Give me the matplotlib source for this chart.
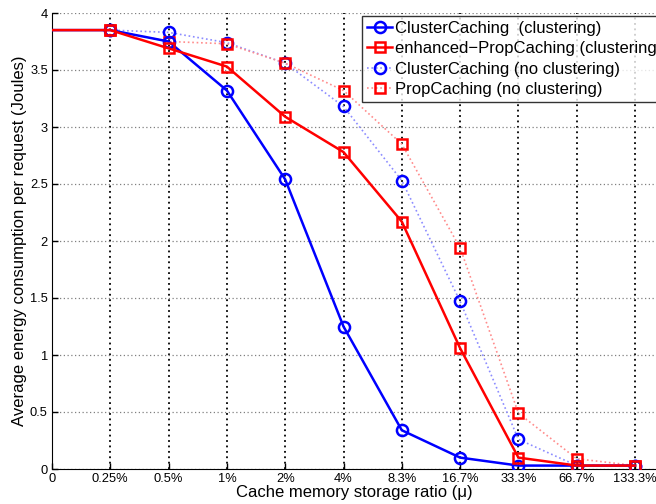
import matplotlib
matplotlib.use("Agg")
import matplotlib.pyplot as plt
from matplotlib.lines import Line2D
import numpy as np

plt.rcParams['font.family'] = ['Liberation Sans', 'DejaVu Sans']

# Cache memory storage ratios (categorical x axis)
ratio_labels = ['0', '0.25%', '0.5%', '1%', '2%', '4%', '8.3%', '16.7%', '33.3%', '66.7%', '133.3%']

# Average energy consumption per request (Joules)
cluster_clustering = [3.85, 3.85, 3.75, 3.32, 2.54, 1.25, 0.34, 0.10, 0.03, 0.03, 0.03]
enh_prop_clustering = [3.85, 3.85, 3.69, 3.53, 3.09, 2.78, 2.17, 1.06, 0.10, 0.03, 0.03]
cluster_noclust = [3.85, 3.85, 3.83, 3.74, 3.56, 3.18, 2.53, 1.47, 0.26, 0.03, 0.03]
prop_noclust = [3.85, 3.85, 3.75, 3.73, 3.56, 3.32, 2.85, 1.94, 0.49, 0.09, 0.03]

x = np.arange(len(ratio_labels))

fig = plt.figure(figsize=(6.56, 5.04), dpi=100)
ax = fig.add_axes([52/656, 35/504, 1 - 52/656, 456/504])

marks = list(range(1, len(x)))
light_blue = (0.55, 0.55, 1.0)
light_red = (1.0, 0.55, 0.55)

# Dotted curves (no clustering): faint line with full-colour markers
ax.plot(x, cluster_noclust, ls=':', color=light_blue, lw=1.2, zorder=3)
ax.plot(x[1:], cluster_noclust[1:], ls='none', marker='o', ms=8, mfc='none',
        mec='blue', mew=1.8, zorder=4)
ax.plot(x, prop_noclust, ls=':', color=light_red, lw=1.2, zorder=3)
ax.plot(x[1:], prop_noclust[1:], ls='none', marker='s', ms=7, mfc='none',
        mec='red', mew=1.8, zorder=4)

# Solid curves (clustering)
ax.plot(x, cluster_clustering, '-', color='blue', lw=1.8, marker='o', ms=8,
        mfc='none', mew=1.8, markevery=marks, zorder=5)
ax.plot(x, enh_prop_clustering, '-', color='red', lw=1.8, marker='s', ms=7,
        mfc='none', mew=1.8, markevery=marks, zorder=6)

ax.set_xlim(0, (656 - 52) / 58.3)
ax.set_ylim(0, 4)
ax.set_xticks(x)
ax.set_xticklabels(ratio_labels, fontsize=9.3)
ax.set_yticks(np.arange(0, 4.01, 0.5))
ax.set_yticklabels(['0', '0.5', '1', '1.5', '2', '2.5', '3', '3.5', '4'], fontsize=9.3)
ax.tick_params(direction='in', length=4, width=1, pad=3)

ax.spines['top'].set_visible(False)
ax.spines['right'].set_visible(False)

ax.xaxis.grid(True, color='black', linestyle=(0, (1, 2)), lw=1.3)
ax.yaxis.grid(True, color='gray', linestyle=(0, (1, 2)), lw=0.9)
ax.set_axisbelow(True)

ax.set_xlabel('Cache memory storage ratio (\u03bc)', fontsize=12, labelpad=0)
ax.set_ylabel('Average energy consumption per request (Joules)', fontsize=12, labelpad=2)

leg_h = [
    Line2D([], [], color='blue', lw=1.8, marker='o', ms=8, mfc='none', mew=1.8),
    Line2D([], [], color='red', lw=1.8, marker='s', ms=7, mfc='none', mew=1.8),
    Line2D([], [], color=light_blue, ls=':', lw=1.2, marker='o', ms=8,
           mfc='none', mec='blue', mew=1.8),
    Line2D([], [], color=light_red, ls=':', lw=1.2, marker='s', ms=7,
           mfc='none', mec='red', mew=1.8),
]
leg_l = ['ClusterCaching  (clustering)', 'enhanced\u2212PropCaching (clustering)',
         'ClusterCaching (no clustering)', 'PropCaching (no clustering)']
leg = ax.legend(leg_h, leg_l, loc='upper left',
                bbox_to_anchor=((362 - 52) / 604, 1 - 3 / 456),
                fontsize=12, frameon=True, fancybox=False, edgecolor='black',
                handlelength=1.5, handletextpad=0.2, borderpad=0.3, labelspacing=0.32,
                borderaxespad=0)
leg.get_frame().set_linewidth(1.0)

fig.savefig('out.png', dpi=100)
